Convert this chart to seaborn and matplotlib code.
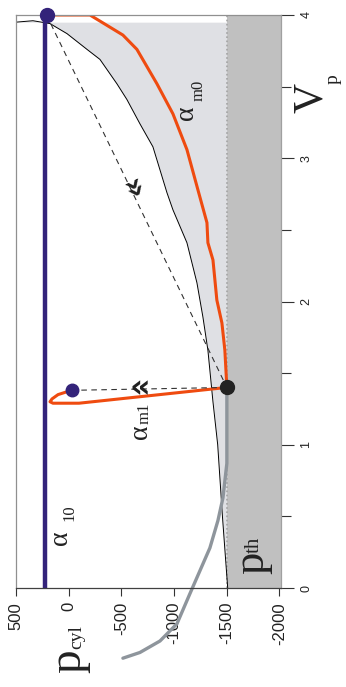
import matplotlib
matplotlib.use('Agg')
import matplotlib.pyplot as plt
import seaborn as sns
import numpy as np

sns.set_style('white')
plt.rcParams['font.family'] = ['Liberation Sans', 'DejaVu Sans']
plt.rcParams['axes.unicode_minus'] = False

# thin boundary curve (edge of the light grey zone)
thin_v = [0.0, 0.5, 1.0, 1.3, 1.66, 1.89, 2.13, 2.41, 2.64, 2.76, 3.08, 3.24, 3.41, 3.52, 3.69, 3.76, 3.87, 3.94, 3.96, 3.95]
thin_p = [-1510, -1460, -1415, -1370, -1322, -1275, -1218, -1123, -990, -933, -800, -677, -553, -458, -297, -174, 16, 177, 339, 500]

# alpha_m0 curve (orange, top)
am0_p = [210, -202, -515, -648, -838, -990, -1123, -1227, -1313, -1322, -1370, -1407, -1455, -1483, -1502]
am0_v = [4.0, 4.0, 3.86, 3.76, 3.52, 3.31, 3.06, 2.78, 2.55, 2.41, 2.29, 2.01, 1.85, 1.66, 1.40]

# alpha_m1 curve (orange, hook)
am1_p = [-1502, -98, 149, 177, 158, 101, 16, -31]
am1_v = [1.40, 1.29, 1.29, 1.30, 1.32, 1.35, 1.37, 1.38]

# p_th curve (grey)
pth_p = [-1502, -1502, -1502, -1465, -1417, -1341, -1246, -1151, -1028, -867, -677, -515]
pth_v = [1.38, 1.10, 0.87, 0.63, 0.47, 0.28, 0.12, -0.04, -0.25, -0.37, -0.45, -0.49]

# alpha_10 line and key points
a10_p = 220
top_pt = (210, 4.0)
black_pt = (-1502, 1.40)
m1_pt = (-31, 1.38)
p_limit = -1500

p_ticks = [500, 0, -500, -1000, -1500, -2000]
p_labels = ['500', '0', '-500', '-1000', '-1500', '-2000']
v_ticks = [0, 1, 2, 3, 4]

W, H = 346, 687
fig = plt.figure(figsize=(W / 100, H / 100), dpi=100)
ax = fig.add_axes([16 / W, 99 / H, 265 / W, 573 / H])

ax.axvspan(p_limit, -2016, color='#c0c0c0', lw=0, zorder=0)
ax.fill_betweenx(thin_v, thin_p, p_limit, color='#dfe0e4', lw=0, zorder=0)
ax.axvline(p_limit, color='#a4a4a4', ls=(0, (1, 1.5)), lw=1.2, zorder=1)

sns.lineplot(x=thin_p, y=thin_v, sort=False, estimator=None, color='black', lw=0.7, ax=ax)
sns.lineplot(x=[a10_p, a10_p], y=[0, 4], sort=False, estimator=None, color='#33237a', lw=3.2, ax=ax)
sns.lineplot(x=pth_p, y=pth_v, sort=False, estimator=None, color='#8e959c', lw=2.4, ax=ax)
ax.lines[-1].set_clip_on(False)
sns.lineplot(x=am0_p, y=am0_v, sort=False, estimator=None, color='#ef4b10', lw=2.2, ax=ax)
sns.lineplot(x=am1_p, y=am1_v, sort=False, estimator=None, color='#ef4b10', lw=2.2, ax=ax)

ax.plot([top_pt[0], black_pt[0]], [top_pt[1], black_pt[1]], ls=(0, (5, 4)), lw=0.8, color='#333333')
ax.plot([black_pt[0], m1_pt[0]], [black_pt[1], m1_pt[1]], ls=(0, (5, 4)), lw=0.8, color='#333333')

ax.plot(*top_pt, 'o', ms=10, color='#33237a', clip_on=False, zorder=6)
ax.plot(*m1_pt, 'o', ms=9, color='#33237a', zorder=6)
ax.plot(*black_pt, 'o', ms=10, color='#222222', zorder=6)

ax.set_xlim(500, -2016)
ax.set_ylim(0, 4)

# chevrons on the dashed paths
fig.canvas.draw()
a = ax.transData.transform(top_pt)
b = ax.transData.transform(black_pt)
ang = np.degrees(np.arctan2(b[1] - a[1], b[0] - a[0]))
f = 0.47
ax.text(top_pt[0] + f * (black_pt[0] - top_pt[0]), top_pt[1] + f * (black_pt[1] - top_pt[1]), '»',
        rotation=ang, rotation_mode='anchor', ha='center', va='center', fontsize=23,
        fontweight='bold', color='#222222', family='DejaVu Sans', zorder=7)
ax.text(-677, 1.395, '«', ha='center', va='center', fontsize=23, fontweight='bold',
        color='#222222', family='DejaVu Sans', zorder=7)

ax.set_xticks(p_ticks)
ax.set_xticklabels(p_labels, rotation=90, fontsize=12, color='#222222')
ax.yaxis.tick_right()
ax.set_yticks(v_ticks)
ax.set_yticklabels([str(v) for v in v_ticks], rotation=90, fontsize=9, color='#222222', va='center')
ax.set_yticks([0.5, 1.5, 2.5, 3.5], minor=True)
ax.tick_params(axis='x', direction='out', length=6, width=0.8, pad=4, bottom=True, color='#333333')
ax.tick_params(axis='y', which='major', direction='out', length=9, width=0.8, pad=5,
               right=True, left=False, color='#333333')
ax.tick_params(axis='y', which='minor', direction='out', length=7, width=0.8,
               right=True, left=False, color='#333333')
ax.set_xlabel('')
ax.set_ylabel('')

for side, c in [('left', '#909090'), ('top', '#909090'), ('bottom', '#404040'), ('right', '#a0a0a0')]:
    ax.spines[side].set_color(c)
    ax.spines[side].set_linewidth(0.9)

serif = ['Liberation Serif', 'DejaVu Serif']


def lbl(x, y, s, size):
    fig.text(x / W, 1 - y / H, s, rotation=90, ha='center', va='center',
             fontsize=size, family=serif, color='#222222')


lbl(69, 661, 'p', 34)
lbl(77, 637, 'cyl', 14)
lbl(312, 98, 'V', 30)
lbl(333, 79, 'p', 14)
lbl(252, 563, 'p', 32)
lbl(254, 545, 'th', 15)
lbl(187, 113, 'α', 20)
lbl(199, 90, 'm0', 12)
lbl(141, 432, 'α', 20)
lbl(145, 413, 'm1', 12)
lbl(60, 538, 'α', 20)
lbl(69, 513, '10', 12)

fig.savefig('out.png', dpi=100)
